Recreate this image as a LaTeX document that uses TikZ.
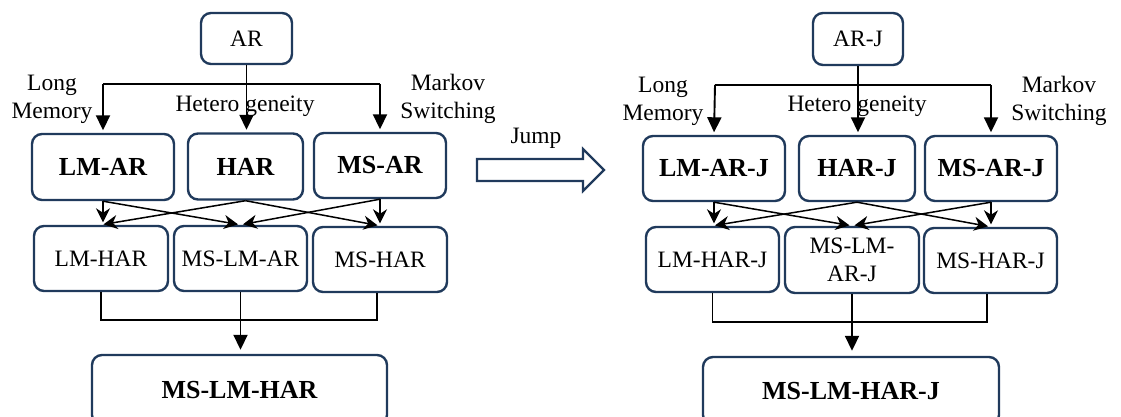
\documentclass[tikz,border=0pt]{standalone}
\usepackage{fontspec}
\setmainfont{Liberation Serif}
\usetikzlibrary{arrows.meta,calc}
\definecolor{boxblue}{HTML}{203A5C}
\tikzset{
  mbox/.style={draw=boxblue, line width=2.4pt, rounded corners=10pt, fill=white,
    inner sep=0pt, align=center, font=\fontsize{23.5}{28}\selectfont},
  bbox/.style={mbox, font=\fontsize{26}{30}\selectfont\bfseries},
  lbl/.style={align=center, inner sep=0pt, font=\fontsize{23.5}{28}\selectfont},
  bigarrow/.style={line width=1.9pt, -{Triangle[width=14pt,length=15pt]}, shorten >=2.5pt},
  xarrow/.style={line width=1.5pt, -{Stealth[width=14pt,length=14pt,inset=4.5pt]}, shorten >=2.5pt},
  link/.style={line width=1.9pt},
}
\begin{document}
\begin{tikzpicture}[x=1pt,y=-1pt]
\useasboundingbox (0,0) rectangle (1121,417);

% ---------- base models ----------
\node[mbox, minimum width=91pt, minimum height=51pt] (ar) at (246.5,38.5) {AR};
\node[bbox, minimum width=142pt, minimum height=66pt] (lmar) at (103,167) {LM-AR};
\node[bbox, minimum width=115pt, minimum height=66pt] (har) at (245.5,166.5) {HAR};
\node[bbox, minimum width=132pt, minimum height=65pt] (msar) at (380,165.5) {MS-AR};
\node[mbox, minimum width=134pt, minimum height=65pt] (lmhar) at (101,258.5) {LM-HAR};
\node[mbox, minimum width=133pt, minimum height=65pt] (mslmar) at (240.5,258.5) {MS-LM-AR};
\node[mbox, minimum width=134pt, minimum height=65pt] (mshar) at (380,259.5) {MS-HAR};
\node[bbox, minimum width=295pt, minimum height=70pt] (mslmhar) at (239.5,390) {MS-LM-HAR};

\node[lbl] (lmL) at (52,99) {Long\\Memory};
\node[lbl] (heL) at (245,106) {Hetero geneity};
\node[lbl] (msL) at (448,99) {Markov\\Switching};

\coordinate (spL) at (103,84);
\coordinate (spR) at (380,84);
\draw[link] (spL) -- (spR);
\draw[bigarrow] (ar.south) -- (ar.south |- har.north);
\draw[bigarrow] (spL) -- (lmar.north);
\draw[bigarrow] (spR) -- (msar.north);

\draw[xarrow] (lmar.south) -- (lmar.south |- lmhar.north);
\draw[xarrow] (lmar.south) -- (mslmar.north);
\draw[xarrow] (har.south) -- (lmhar.north);
\draw[xarrow] (har.south) -- (mshar.north);
\draw[xarrow] (msar.south) -- (mslmar.north);
\draw[xarrow] (msar.south) -- (msar.south |- mshar.north);

\draw[link] (lmhar.south) -- ++(0,28) -| ([xshift=-3pt]mshar.south);
\draw[bigarrow, shorten >=4pt] (mslmar.south) -- (mslmar.south |- mslmhar.north);

% ---------- jump extension ----------
\draw[draw=boxblue, line width=2.2pt, fill=white, line join=miter]
  (477,159) -- (583,159) -- (583,149) -- (604,170) -- (583,191) -- (583,181) -- (477,181) -- cycle;
\node[lbl] (jump) at (536,138) {Jump};

% ---------- jump models ----------
\node[mbox, minimum width=90pt, minimum height=52pt] (arj) at (858,39) {AR-J};
\node[bbox, minimum width=142pt, minimum height=65pt] (lmarj) at (714,168.5) {LM-AR-J};
\node[bbox, minimum width=116pt, minimum height=65pt] (harj) at (857,168.5) {HAR-J};
\node[bbox, minimum width=132pt, minimum height=65pt] (msarj) at (991,168.5) {MS-AR-J};
\node[mbox, minimum width=133pt, minimum height=65pt] (lmharj) at (712.5,259.5) {LM-HAR-J};
\node[mbox, minimum width=134pt, minimum height=66pt] (mslmarj) at (852,260) {MS-LM-\\AR-J};
\node[mbox, minimum width=133pt, minimum height=65pt] (msharj) at (990.5,260.5) {MS-HAR-J};
\node[bbox, minimum width=296pt, minimum height=68pt] (mslmharj) at (851,391) {MS-LM-HAR-J};

\node[lbl] (lmR) at (663,101) {Long\\Memory};
\node[lbl] (heR) at (857,106) {Hetero geneity};
\node[lbl] (msR) at (1059,101) {Markov\\Switching};

\coordinate (spLj) at (715,85);
\coordinate (spRj) at (991,85);
\draw[link] (spLj) -- (spRj);
\draw[bigarrow] (arj.south) -- (arj.south |- harj.north);
\draw[bigarrow] (spLj) -- (lmarj.north);
\draw[bigarrow] (spRj) -- (msarj.north);

\draw[xarrow] (lmarj.south) -- (lmarj.south |- lmharj.north);
\draw[xarrow] (lmarj.south) -- (mslmarj.north);
\draw[xarrow] (harj.south) -- (lmharj.north);
\draw[xarrow] (harj.south) -- (msharj.north);
\draw[xarrow] (msarj.south) -- (mslmarj.north);
\draw[xarrow] (msarj.south) -- (msarj.south |- msharj.north);

\draw[link] (lmharj.south) -- ++(0,29) -| ([xshift=-3.5pt]msharj.south);
\draw[bigarrow, shorten >=5pt] (mslmarj.south) -- (mslmarj.south |- mslmharj.north);
\end{tikzpicture}
\end{document}
